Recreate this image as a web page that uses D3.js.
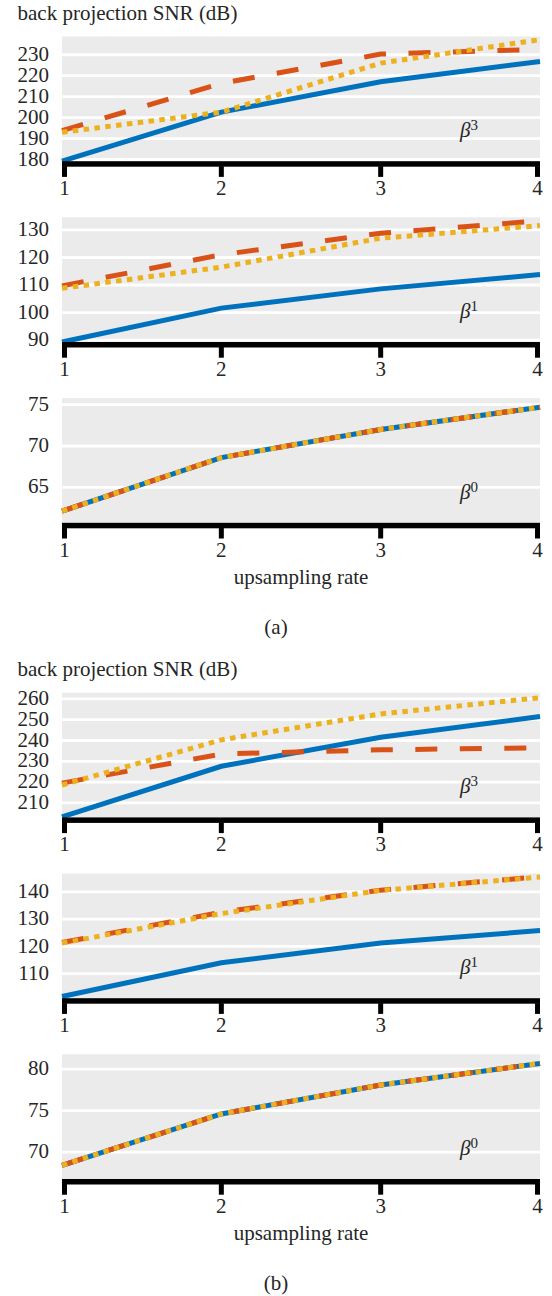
<!DOCTYPE html>
<html>
<head>
<meta charset="utf-8">
<style>
	body { margin: 0; background: #fff; }
	svg { display: block; font-family: "Liberation Serif", "Times New Roman", serif; }
	.lbl { fill: #262626; font-size: 21px; font-family: "Liberation Serif", "Times New Roman", serif; }
</style>
<script src="https://cdnjs.cloudflare.com/ajax/libs/d3/7.8.5/d3.min.js"></script>
</head>
<body>
<div id="chart"></div>
<script>
	// x values (upsampling rate)
	const upsampling = [1, 2, 3, 4];

	// figure (a)
	const aBeta3Blue   = [179.2, 202.6, 217.1, 226.8];
	const aBeta3Orange = [193.8, 216.3, 230.3, 232.6];
	const aBeta3Yellow = [193.0, 202.6, 226.0, 237.2];
	const aBeta3Ticks  = [180, 190, 200, 210, 220, 230];
	const aBeta3Range  = [179.2, 238.7];

	const aBeta1Blue   = [89.3, 101.6, 108.6, 113.8];
	const aBeta1Orange = [109.7, 121.0, 128.8, 133.3];
	const aBeta1Yellow = [108.8, 116.5, 127.0, 131.6];
	const aBeta1Ticks  = [90, 100, 110, 120, 130];
	const aBeta1Range  = [89.3, 134.6];

	const aBeta0Blue   = [62.1, 68.6, 72.0, 74.7];
	const aBeta0Orange = [62.1, 68.6, 72.0, 74.7];
	const aBeta0Yellow = [62.1, 68.6, 72.0, 74.7];
	const aBeta0Ticks  = [65, 70, 75];
	const aBeta0Range  = [60.7, 75.8];

	// figure (b)
	const bBeta3Blue   = [203.3, 227.6, 241.6, 251.5];
	const bBeta3Orange = [219.5, 233.5, 235.5, 236.5];
	const bBeta3Yellow = [218.6, 240.3, 252.8, 260.6];
	const bBeta3Ticks  = [210, 220, 230, 240, 250, 260];
	const bBeta3Range  = [203.0, 263.0];

	const bBeta1Blue   = [101.6, 114.0, 121.2, 125.8];
	const bBeta1Orange = [121.4, 132.5, 140.6, 145.5];
	const bBeta1Yellow = [121.2, 132.0, 140.5, 145.4];
	const bBeta1Ticks  = [110, 120, 130, 140];
	const bBeta1Range  = [101.0, 146.7];

	const bBeta0Blue   = [68.4, 74.6, 78.1, 80.7];
	const bBeta0Orange = [68.4, 74.6, 78.1, 80.7];
	const bBeta0Yellow = [68.4, 74.6, 78.1, 80.7];
	const bBeta0Ticks  = [70, 75, 80];
	const bBeta0Range  = [66.75, 81.8];

	const figures = [
		{ caption: "(a)", top: 36.5, panels: [
			{ beta: "3", blue: aBeta3Blue, orange: aBeta3Orange, yellow: aBeta3Yellow, ticks: aBeta3Ticks, range: aBeta3Range },
			{ beta: "1", blue: aBeta1Blue, orange: aBeta1Orange, yellow: aBeta1Yellow, ticks: aBeta1Ticks, range: aBeta1Range },
			{ beta: "0", blue: aBeta0Blue, orange: aBeta0Orange, yellow: aBeta0Yellow, ticks: aBeta0Ticks, range: aBeta0Range }
		]},
		{ caption: "(b)", top: 692.7, panels: [
			{ beta: "3", blue: bBeta3Blue, orange: bBeta3Orange, yellow: bBeta3Yellow, ticks: bBeta3Ticks, range: bBeta3Range },
			{ beta: "1", blue: bBeta1Blue, orange: bBeta1Orange, yellow: bBeta1Yellow, ticks: bBeta1Ticks, range: bBeta1Range },
			{ beta: "0", blue: bBeta0Blue, orange: bBeta0Orange, yellow: bBeta0Yellow, ticks: bBeta0Ticks, range: bBeta0Range }
		]}
	];

	const W = 552, H = 1296;
	const left = 62, right = 540;
	const panelH = 124.7, panelStep = 180.8;

	const svg = d3.select("#chart").append("svg")
		.attr("width", W)
		.attr("height", H);

	const x = d3.scaleLinear().domain([1, 4]).range([left, right]);
	// ticks at the ends are pushed inside the box
	const tickX = d => Math.min(Math.max(x(d), left + 2.5), right - 2.5);

	const styles = [
		{ key: "blue",   color: "#0072bd", dash: null },
		{ key: "orange", color: "#d95319", dash: "22,22.5" },
		{ key: "yellow", color: "#edb120", dash: "5.5,5.4" }
	];

	figures.forEach(function(fig) {
		// y label on top
		svg.append("text")
			.attr("class", "lbl")
			.attr("x", 17.5)
			.attr("y", fig.top - 17)
			.text("back projection SNR (dB)");

		let bottom = 0;
		fig.panels.forEach(function(p, i) {
			const top = fig.top + i * panelStep;
			bottom = top + panelH;
			const y = d3.scaleLinear().domain(p.range).range([bottom, top]);
			const g = svg.append("g");

			g.append("rect")
				.attr("x", left).attr("y", top)
				.attr("width", right - left).attr("height", panelH)
				.attr("fill", "#ebebeb");

			// white grid
			g.selectAll("line.grid")
				.data(p.ticks)
				.enter().append("line")
				.attr("class", "grid")
				.attr("x1", left).attr("x2", right)
				.attr("y1", d => y(d)).attr("y2", d => y(d))
				.attr("stroke", "#fff")
				.attr("stroke-width", 2.8);

			// y tick labels
			const yAxis = g.append("g")
				.attr("transform", "translate(" + left + ",0)")
				.call(d3.axisLeft(y).tickValues(p.ticks).tickSize(0).tickPadding(13));
			yAxis.attr("font-family", null).attr("font-size", null);
			yAxis.select(".domain").remove();
			yAxis.selectAll("text")
				.attr("class", "lbl")
				.attr("dy", "0.27em")
				.attr("fill", null);

			// the three curves
			const line = d3.line()
				.x((d, j) => x(upsampling[j]))
				.y(d => y(d));
			styles.forEach(function(s) {
				g.append("path")
					.datum(p[s.key])
					.attr("d", line)
					.attr("fill", "none")
					.attr("stroke", s.color)
					.attr("stroke-width", 5)
					.attr("stroke-dasharray", s.dash);
			});

			// thick x axis
			g.append("rect")
				.attr("x", left).attr("y", bottom)
				.attr("width", right - left).attr("height", 5.5)
				.attr("fill", "#000");
			g.selectAll("rect.tick")
				.data(upsampling)
				.enter().append("rect")
				.attr("class", "tick")
				.attr("x", d => tickX(d) - 2.5)
				.attr("y", bottom + 5)
				.attr("width", 5).attr("height", 10.7)
				.attr("fill", "#000");
			g.selectAll("text.xt")
				.data(upsampling)
				.enter().append("text")
				.attr("class", "lbl xt")
				.attr("x", d => tickX(d))
				.attr("y", bottom + 34)
				.attr("text-anchor", "middle")
				.text(d => d);

			// beta label
			const b = g.append("text")
				.attr("class", "lbl")
				.attr("x", 460)
				.attr("y", bottom - 24);
			b.append("tspan").attr("font-style", "italic").text("β");
			b.append("tspan").attr("font-size", "15px").attr("dy", -7).text(p.beta);
		});

		svg.append("text")
			.attr("class", "lbl")
			.attr("x", (left + right) / 2)
			.attr("y", bottom + 61)
			.attr("text-anchor", "middle")
			.text("upsampling rate");

		svg.append("text")
			.attr("class", "lbl")
			.attr("x", W / 2)
			.attr("y", bottom + 111)
			.attr("text-anchor", "middle")
			.text(fig.caption);
	});
</script>
</body>
</html>
